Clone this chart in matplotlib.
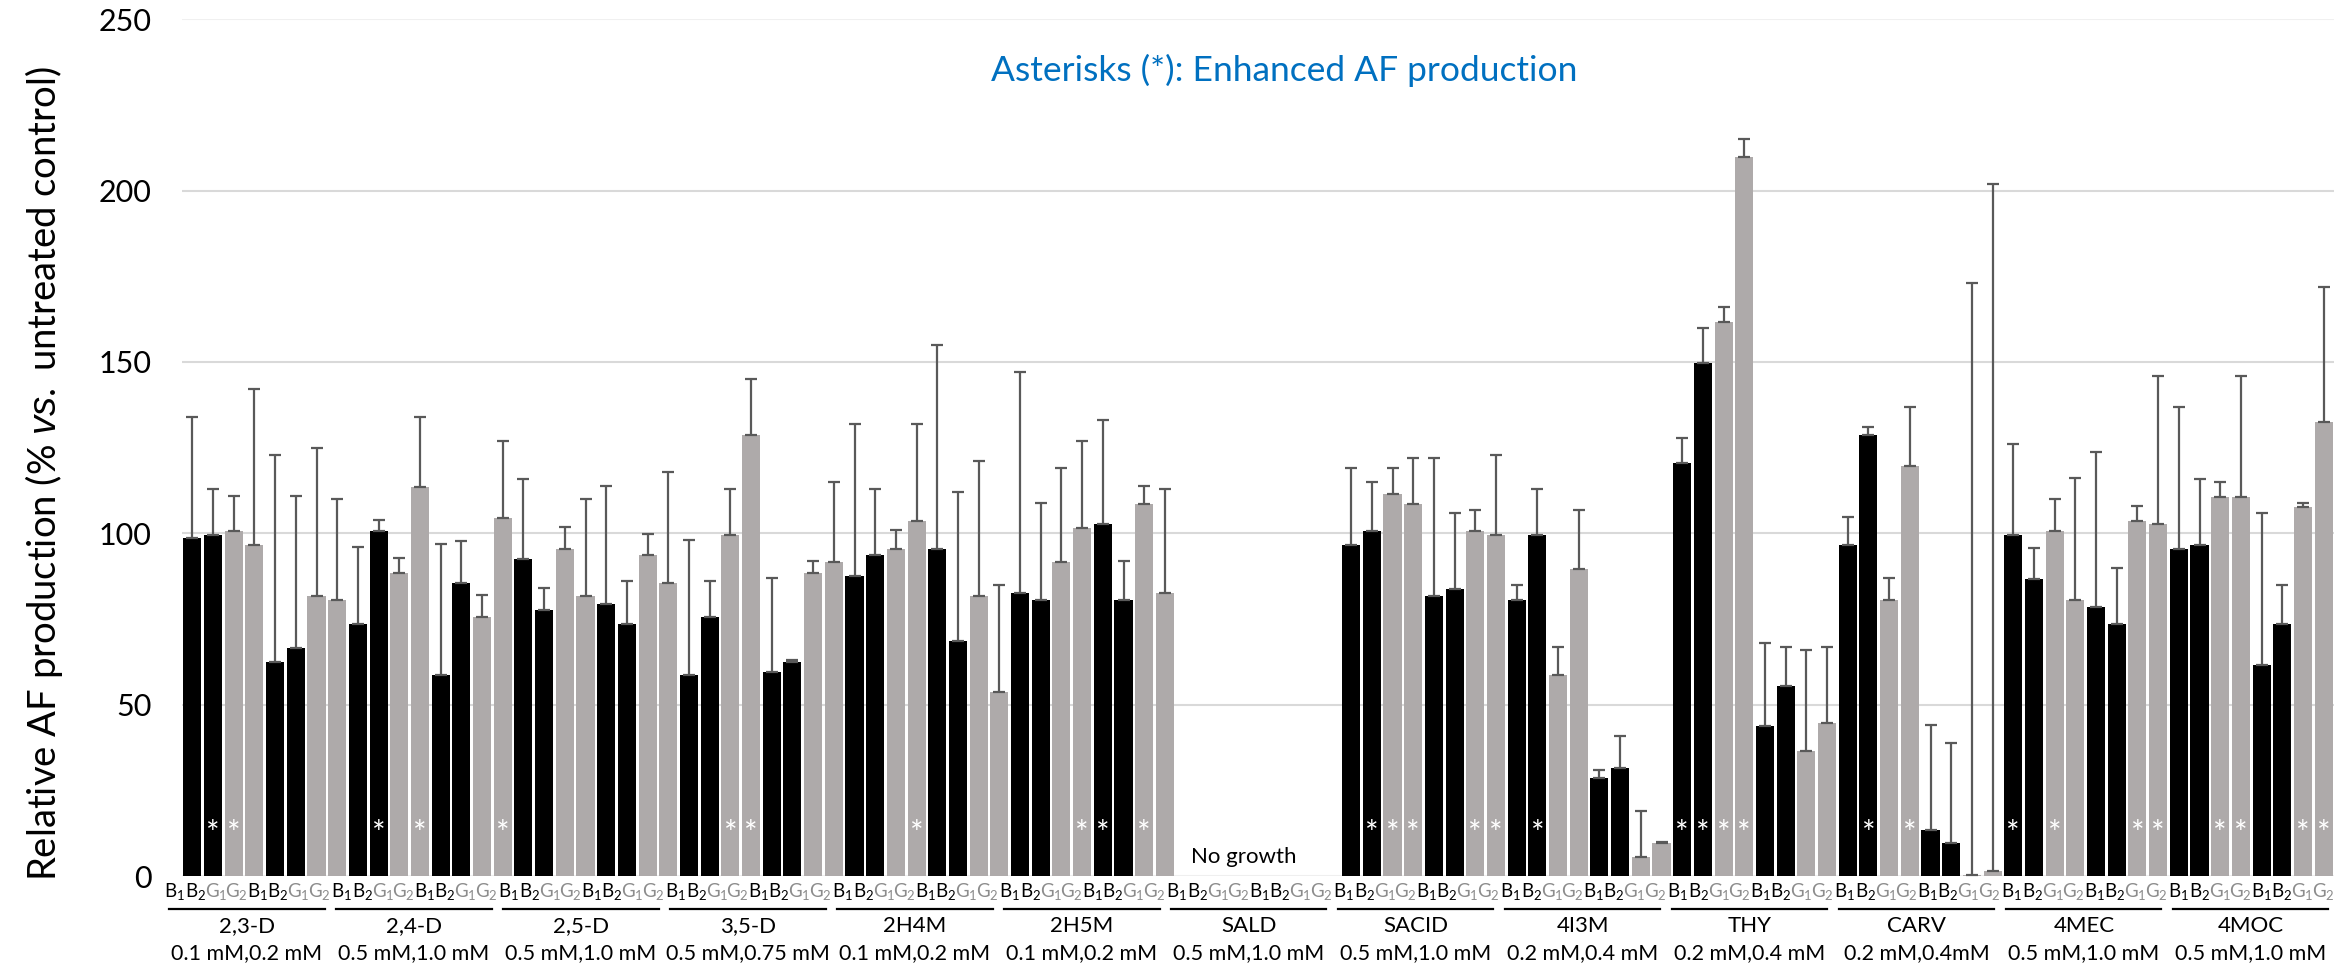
import numpy as np
import matplotlib
matplotlib.use("Agg")
import matplotlib.pyplot as plt
import matplotlib.transforms as mtransforms

plt.rcParams['font.family'] = ['Lato', 'DejaVu Sans']
plt.rcParams['mathtext.fontset'] = 'custom'
plt.rcParams['mathtext.rm'] = 'Lato'
plt.rcParams['mathtext.it'] = 'Liberation Sans:italic'
plt.rcParams['mathtext.bf'] = 'Lato:bold'

groups = ["2,3-D", "2,4-D", "2,5-D", "3,5-D", "2H4M", "2H5M", "SALD",
          "SACID", "4I3M", "THY", "CARV", "4MEC", "4MOC"]
concs = ["0.1 mM,0.2 mM", "0.5 mM,1.0 mM", "0.5 mM,1.0 mM", "0.5 mM,0.75 mM",
         "0.1 mM,0.2 mM", "0.1 mM,0.2 mM", "0.5 mM,1.0 mM", "0.5 mM,1.0 mM",
         "0.2 mM,0.4 mM", "0.2 mM,0.4 mM", "0.2 mM,0.4mM", "0.5 mM,1.0 mM",
         "0.5 mM,1.0 mM"]
bar_names = ["B$_1$", "B$_2$", "G$_1$", "G$_2$", "B$_1$", "B$_2$", "G$_1$", "G$_2$"]

# order in each group: B1 B2 G1 G2 (low conc), B1 B2 G1 G2 (high conc)
means = [
    [98.7, 99.4, 100.6, 96.6, 62.4, 66.6, 81.7, 80.5],
    [73.5, 100.6, 88.5, 113.4, 58.6, 85.4, 75.6, 104.6],
    [92.4, 77.5, 95.5, 81.7, 79.4, 73.5, 93.6, 85.5],
    [58.6, 75.6, 99.6, 128.6, 59.5, 62.4, 88.5, 91.5],
    [87.5, 93.6, 95.5, 103.6, 95.5, 68.6, 81.7, 53.7],
    [82.6, 80.6, 91.5, 101.6, 102.7, 80.6, 108.5, 82.7],
    [np.nan] * 8,
    [96.6, 100.6, 111.6, 108.5, 81.7, 83.8, 100.6, 99.6],
    [80.6, 99.6, 58.6, 89.7, 28.5, 31.4, 5.4, 9.5],
    [120.6, 149.6, 161.7, 209.7, 43.7, 55.4, 36.5, 44.6],
    [96.6, 128.6, 80.5, 119.7, 13.4, 9.5, 0.3, 1.5],
    [99.6, 86.6, 100.6, 80.6, 78.5, 73.5, 103.6, 102.7],
    [95.5, 96.6, 110.7, 110.7, 61.7, 73.5, 107.6, 132.6],
]
errs = [
    [35.3, 13.6, 10.4, 45.4, 60.6, 44.4, 43.3, 29.5],
    [22.5, 3.3, 4.3, 20.6, 38.3, 12.5, 6.4, 22.4],
    [23.4, 6.4, 6.4, 28.3, 34.5, 12.5, 6.2, 32.4],
    [39.4, 10.4, 13.4, 16.4, 27.4, 0.5, 3.5, 23.5],
    [44.5, 19.4, 5.4, 28.4, 59.5, 43.4, 39.3, 31.1],
    [64.4, 28.2, 27.5, 25.4, 30.3, 11.4, 5.4, 30.3],
    [np.nan] * 8,
    [22.4, 14.4, 7.4, 13.5, 40.3, 22.0, 6.3, 23.4],
    [4.2, 13.4, 8.3, 17.2, 2.5, 9.4, 13.5, 0.5],
    [7.3, 10.3, 4.2, 5.5, 24.3, 11.4, 29.4, 22.3],
    [8.3, 2.4, 6.4, 17.1, 30.6, 29.4, 172.7, 200.5],
    [26.4, 9.2, 9.4, 35.4, 45.3, 16.5, 4.3, 43.2],
    [41.3, 19.2, 4.2, 35.2, 44.1, 11.3, 1.3, 39.4],
]
# bars marked with * (index inside group)
stars = [[1, 2], [1, 3, 7], [], [2, 3], [3], [3, 4, 6], [],
         [1, 2, 3, 6, 7], [1], [0, 1, 2, 3], [1, 3], [0, 2, 6, 7], [2, 3, 6, 7]]

W, H = 2343, 966
BLACK = "#000000"
GRAY = "#AEAAAA"

fig = plt.figure(figsize=(W / 100, H / 100), dpi=100)
ax = fig.add_axes([182 / W, 1 - 876 / H, 2152 / W, (876 - 19.3) / H])

vals = np.array(means, dtype=float).ravel()
err = np.array(errs, dtype=float).ravel()
x = np.arange(len(vals))
colors = [BLACK if (i % 4) < 2 else GRAY for i in range(len(vals))]

ax.bar(x, vals, width=0.87, color=colors, zorder=2)
ax.errorbar(x, vals, yerr=[np.zeros_like(err), err], fmt='none',
            ecolor="#595959", elinewidth=1.6, capsize=4.3, capthick=1.6, zorder=3)

for g, idx in enumerate(stars):
    for k in idx:
        ax.text(g * 8 + k, 12.0, "*", color="white", ha="center", va="center",
                fontsize=23, zorder=4)

ax.set_xlim(-0.5, len(vals) - 0.5)
ax.set_ylim(0, 250)
ax.set_yticks([0, 50, 100, 150, 200, 250])
ax.tick_params(axis='y', length=0, labelsize=22, pad=22)
ax.set_xticks([])
for s in ax.spines.values():
    s.set_visible(False)
for yv in [50, 100, 150, 200]:
    ax.axhline(yv, color="#D9D9D9", lw=1.5, zorder=1)
ax.axhline(250, color="#F0F0F0", lw=1.5, zorder=1)
ax.axhline(0, color="#EFEFEF", lw=1.5, zorder=1)

ax.text(50.8, 5.5, "No growth", ha="center", va="center", fontsize=16)

ax.text(0.512, 0.94, "Asterisks (*): Enhanced AF production", transform=ax.transAxes,
        ha="center", va="center", fontsize=25.5, color="#0070C0")

fig.text(44 / W, 0.5 + 0.01, r"Relative AF production (% $\mathit{vs.}$ untreated control)",
         rotation=90, ha="center", va="center", fontsize=27.5)

trans = mtransforms.blended_transform_factory(ax.transData, fig.transFigure)
for g in range(len(groups)):
    cx = 2.64 + 8.07 * g
    for k, name in enumerate(bar_names):
        c = BLACK if name.startswith("B") else "#8C8C8C"
        ax.text(cx + (k - 3.5) * 1.0, 1 - 891 / H, name, color=c, transform=trans,
                ha="center", va="center", fontsize=13.5)
    ax.plot([cx - 3.75, cx + 3.75], [1 - 909 / H] * 2, transform=trans,
            color=BLACK, lw=1.6, clip_on=False)
    ax.text(cx, 1 - 926 / H, groups[g], transform=trans, ha="center", va="center",
            fontsize=16)
    ax.text(cx, 1 - 953 / H, concs[g], transform=trans, ha="center", va="center",
            fontsize=15.5)

fig.savefig("out.png", dpi=100)
